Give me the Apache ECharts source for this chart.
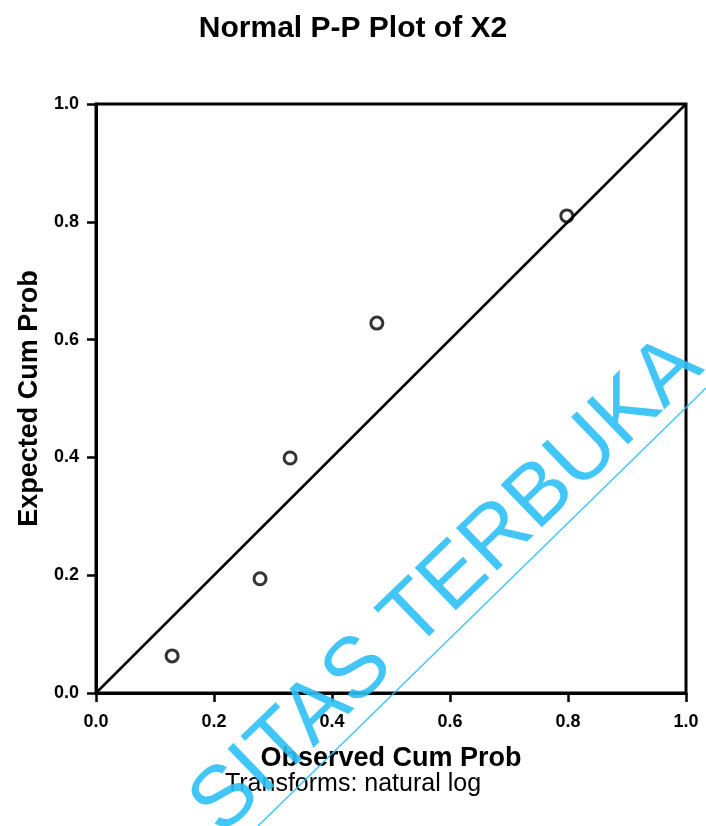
<!DOCTYPE html>
<html>
<head>
<meta charset="utf-8">
<script src="https://cdn.jsdelivr.net/npm/echarts@6/dist/echarts.min.js"></script>
<style>
  html, body { margin: 0; padding: 0; background: #fff; }
  #chart-container { width: 706px; height: 826px; }
</style>
</head>
<body>
<div id="chart-container"></div>
<script>
// observed vs expected cumulative probabilities
var observedCum = [0.129, 0.278, 0.329, 0.476, 0.798];
var expectedCum = [0.063, 0.194, 0.399, 0.628, 0.810];
// reference diagonal
var diagX = [0, 1];
var diagY = [0, 1];
var tickLabels = ['0.0', '0.2', '0.4', '0.6', '0.8', '1.0'];

var dom = document.getElementById('chart-container');
var myChart = echarts.init(dom, null, { renderer: 'canvas' });

var font = '"Liberation Sans", Arial, sans-serif';
var wmColor = 'rgba(45,192,246,0.9)';

var points = observedCum.map(function (x, i) { return [x, expectedCum[i]]; });
var diag = diagX.map(function (x, i) { return [x, diagY[i]]; });

function axisCommon(name, gap, labelMargin) {
    return {
        type: 'value',
        min: 0,
        max: 1,
        interval: 0.2,
        name: name,
        nameLocation: 'middle',
        nameGap: gap,
        nameTextStyle: { fontFamily: font, fontWeight: 'bold', fontSize: 27, color: '#000' },
        axisLine: { show: true, lineStyle: { color: '#000', width: 3 } },
        axisTick: { show: true, inside: false, length: 9, lineStyle: { color: '#000', width: 2.5 } },
        axisLabel: {
            margin: labelMargin,
            fontFamily: font, fontWeight: 'bold', fontSize: 18, color: '#000',
            formatter: function (v) { return tickLabels[Math.round(v * 5)]; }
        },
        splitLine: { show: false }
    };
}

var option = {
    animation: false,
    backgroundColor: '#fff',
    title: {
        text: 'Normal P-P Plot of X2',
        left: 'center',
        top: 9,
        textStyle: { fontFamily: font, fontWeight: 'bold', fontSize: 30, color: '#000' }
    },
    grid: {
        left: 96, right: 20, top: 104, bottom: 133,
        show: true, borderColor: '#000', borderWidth: 3
    },
    xAxis: axisCommon('Observed Cum Prob', 52, 20),
    yAxis: axisCommon('Expected Cum Prob', 52, 17),
    series: [
        {
            type: 'line',
            data: diag,
            showSymbol: false,
            lineStyle: { color: '#000', width: 2.5 },
            silent: true
        },
        {
            type: 'scatter',
            data: points,
            symbol: 'circle',
            symbolSize: 12,
            itemStyle: { color: '#fff', borderColor: '#000', borderWidth: 3 }
        }
    ],
    graphic: [
        {
            type: 'text',
            left: 'center',
            top: 772,
            style: {
                text: 'Transforms: natural log',
                font: '25px ' + font,
                fill: '#000'
            }
        },
        {
            type: 'line',
            shape: { x1: 258, y1: 826, x2: 706, y2: 388 },
            style: { stroke: wmColor, lineWidth: 1.5 },
            z: 100
        },
        {
            type: 'text',
            x: 447,
            y: 586,
            rotation: 44 * Math.PI / 180,
            style: {
                text: 'SITAS TERBUKA',
                font: '86px ' + font,
                fill: wmColor,
                textAlign: 'center',
                textVerticalAlign: 'middle'
            },
            z: 100
        }
    ]
};

myChart.setOption(option);
window.addEventListener('resize', myChart.resize);
</script>
</body>
</html>
